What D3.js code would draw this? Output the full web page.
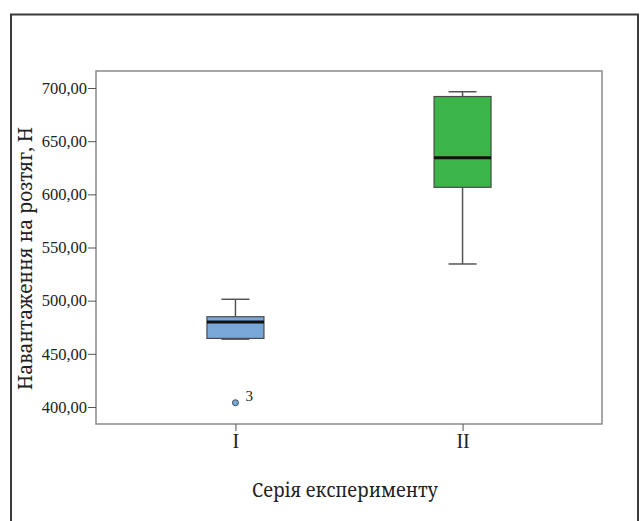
<!DOCTYPE html>
<html>
<head>
<meta charset="utf-8">
<script src="https://cdn.jsdelivr.net/npm/d3@7"></script>
<style>
  body { margin: 0; background: #fff; }
</style>
</head>
<body>
<div id="chart"></div>
<script>
// box-plot values
const series = ['I', 'II'];
const whiskerLow = [463.8, 534.5];
const q1 = [464.5, 606.6];
const median = [480.0, 634.5];
const q3 = [484.9, 692.0];
const whiskerHigh = [501.3, 696.5];
const colors = ['#78a7d8', '#3bb54a'];
const outliers = [{ series: 'I', value: 404.0, label: '3' }];
const yTicks = [400, 450, 500, 550, 600, 650, 700];

const width = 644;
const height = 521;
const plot = { left: 96, right: 602, top: 71, bottom: 424 };
const serif = '"Liberation Serif", "Times New Roman", serif';
// Liberation Serif has no Cyrillic here, Noto Serif does
const cyrSerif = '"Noto Serif", "DejaVu Serif", serif';

const svg = d3
  .select('#chart')
  .append('svg')
  .attr('width', width)
  .attr('height', height);

// outer frame (open at the bottom)
svg.append('rect')
  .attr('x', 11)
  .attr('y', 14.5)
  .attr('width', 627)
  .attr('height', 530)
  .attr('fill', 'none')
  .attr('stroke', '#3a3a3a')
  .attr('stroke-width', 2);

const x = d3.scalePoint()
  .domain(series)
  .range([plot.left, plot.right])
  .padding(0.614);

const y = d3.scaleLinear()
  .domain([384, 716])
  .range([plot.bottom, plot.top]);

// plot frame
svg.append('rect')
  .attr('x', plot.left)
  .attr('y', plot.top)
  .attr('width', plot.right - plot.left)
  .attr('height', plot.bottom - plot.top)
  .attr('fill', 'none')
  .attr('stroke', '#8a8a8a')
  .attr('stroke-width', 1.5);

// y axis
const yAxis = svg.append('g')
  .attr('transform', `translate(${plot.left}, 0)`)
  .call(d3.axisLeft(y).tickValues(yTicks).tickSize(8).tickPadding(1)
    .tickFormat((d) => d3.format('.2f')(d).replace('.', ',')));
yAxis.select('.domain').remove();
yAxis.selectAll('line').attr('stroke', '#555');
yAxis.selectAll('text')
  .style('font-family', serif)
  .style('font-size', '16.5px')
  .attr('fill', '#222');

// x axis
const xAxis = svg.append('g')
  .attr('transform', `translate(0, ${plot.bottom})`)
  .call(d3.axisBottom(x).tickSize(7).tickPadding(3));
xAxis.select('.domain').remove();
xAxis.selectAll('line').attr('stroke', '#555');
xAxis.selectAll('text')
  .style('font-family', serif)
  .style('font-size', '20px')
  .attr('fill', '#222');

const boxW = 57;
const capW = 28;

const boxes = svg.append('g')
  .selectAll('g')
  .data(series)
  .join('g');

// whiskers
boxes.append('line')
  .attr('x1', (d) => x(d)).attr('x2', (d) => x(d))
  .attr('y1', (d, i) => y(whiskerLow[i]))
  .attr('y2', (d, i) => y(whiskerHigh[i]))
  .attr('stroke', '#555').attr('stroke-width', 1.5);

boxes.selectAll('.cap')
  .data((d, i) => [[d, whiskerLow[i]], [d, whiskerHigh[i]]])
  .join('line')
  .attr('class', 'cap')
  .attr('x1', (d) => x(d[0]) - capW / 2)
  .attr('x2', (d) => x(d[0]) + capW / 2)
  .attr('y1', (d) => y(d[1]))
  .attr('y2', (d) => y(d[1]))
  .attr('stroke', '#555').attr('stroke-width', 1.5);

// boxes
boxes.append('rect')
  .attr('x', (d) => x(d) - boxW / 2)
  .attr('y', (d, i) => y(q3[i]))
  .attr('width', boxW)
  .attr('height', (d, i) => y(q1[i]) - y(q3[i]))
  .attr('fill', (d, i) => colors[i])
  .attr('stroke', '#4a4a4a')
  .attr('stroke-width', 1.2);

// medians
boxes.append('line')
  .attr('x1', (d) => x(d) - boxW / 2)
  .attr('x2', (d) => x(d) + boxW / 2)
  .attr('y1', (d, i) => y(median[i]))
  .attr('y2', (d, i) => y(median[i]))
  .attr('stroke', '#111').attr('stroke-width', 3);

// outliers
svg.append('g')
  .selectAll('circle')
  .data(outliers)
  .join('circle')
  .attr('cx', (d) => x(d.series))
  .attr('cy', (d) => y(d.value))
  .attr('r', 3)
  .attr('fill', colors[0])
  .attr('stroke', '#3a4a5a')
  .attr('stroke-width', 1);

svg.append('g')
  .selectAll('text')
  .data(outliers)
  .join('text')
  .attr('x', (d) => x(d.series) + 10)
  .attr('y', (d) => y(d.value) - 2)
  .style('font-family', serif)
  .style('font-size', '15px')
  .attr('fill', '#222')
  .text((d) => d.label);

// axis titles
svg.append('text')
  .attr('x', (plot.left + plot.right) / 2 - 4)
  .attr('y', 497)
  .attr('text-anchor', 'middle')
  .attr('textLength', 186)
  .attr('lengthAdjust', 'spacingAndGlyphs')
  .style('font-family', cyrSerif)
  .style('font-size', '20px')
  .attr('fill', '#222')
  .text('Серія експерименту');

svg.append('text')
  .attr('transform', `translate(32, ${(plot.top + plot.bottom) / 2 + 11}) rotate(-90)`)
  .attr('text-anchor', 'middle')
  .attr('textLength', 263)
  .attr('lengthAdjust', 'spacingAndGlyphs')
  .style('font-family', cyrSerif)
  .style('font-size', '20px')
  .attr('fill', '#222')
  .text('Навантаження на розтяг, Н');
</script>
</body>
</html>
